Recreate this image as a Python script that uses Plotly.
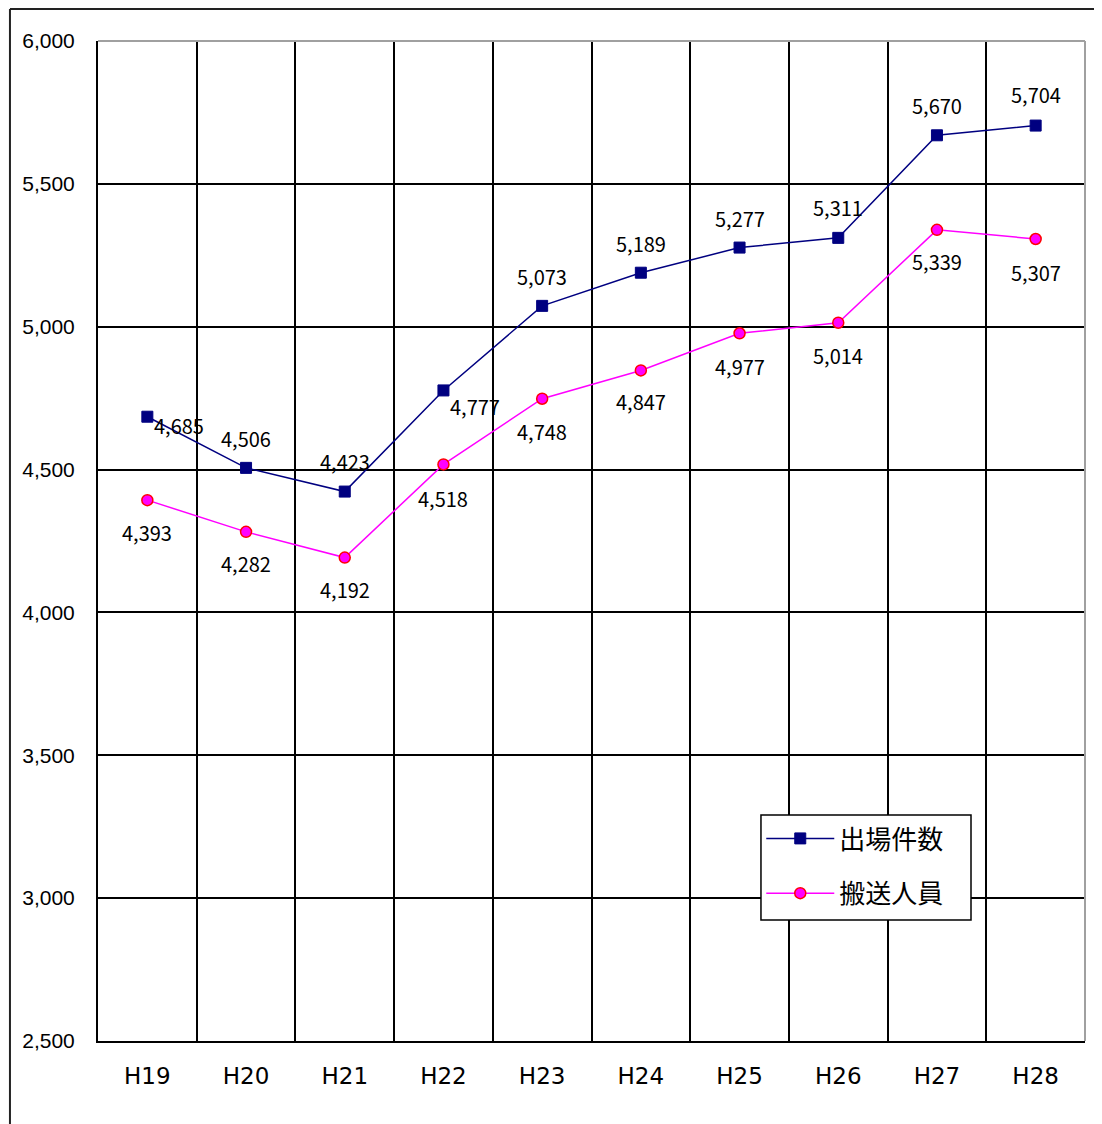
import plotly.graph_objects as go

years = ["H19", "H20", "H21", "H22", "H23", "H24", "H25", "H26", "H27", "H28"]
dispatches = [4685, 4506, 4423, 4777, 5073, 5189, 5277, 5311, 5670, 5704]
transported = [4393, 4282, 4192, 4518, 4748, 4847, 4977, 5014, 5339, 5307]
name_dispatch = "出場件数"
name_transport = "搬送人員"

# label offsets (pixels) relative to each point
disp_dx = [32, 0, 0, 32, 0, 0, 0, 0, 0, 0]
disp_dy = [-9, 29, 30, -16, 29, 29, 29, 30, 30, 31]
trans_dx = [0] * 10
trans_dy = [-32, -32, -32, -34, -33, -31, -33, -33, -32, -33]

NAVY = "#000080"
MAG = "#FF00FF"

fig = go.Figure()
fig.add_trace(go.Scatter(
    x=years, y=dispatches, name=name_dispatch, mode="lines+markers",
    line=dict(color=NAVY, width=1.5),
    marker=dict(symbol="square", size=11, color=NAVY, line=dict(color=NAVY, width=1)),
    legendgroup="a",
))
fig.add_trace(go.Scatter(
    x=years, y=transported, name=name_transport, mode="lines+markers",
    line=dict(color=MAG, width=1.5),
    marker=dict(symbol="circle", size=11, color=MAG, line=dict(color="#FF0000", width=1.5)),
    legendgroup="b",
))

label_font = dict(family="Noto Sans CJK JP", size=20, color="black")
for xv, yv, dx, dy in zip(years, dispatches, disp_dx, disp_dy):
    fig.add_annotation(x=xv, y=yv, text=f"{yv:,}", showarrow=False,
                       xshift=dx, yshift=dy, font=label_font)
for xv, yv, dx, dy in zip(years, transported, trans_dx, trans_dy):
    fig.add_annotation(x=xv, y=yv, text=f"{yv:,}", showarrow=False,
                       xshift=dx, yshift=dy, font=label_font)

# gray top/right plot border
fig.add_shape(type="line", xref="paper", yref="paper", x0=0, x1=1, y0=1, y1=1,
              line=dict(color="#A0A0A0", width=2), layer="above")
fig.add_shape(type="line", xref="paper", yref="paper", x0=1, x1=1, y0=0, y1=1,
              line=dict(color="#A0A0A0", width=2), layer="above")
# outer chart frame (left and top edges)
fig.add_shape(type="line", xref="paper", yref="paper", x0=-0.0892, x1=1.05, y0=1.032, y1=1.032,
              line=dict(color="#222222", width=2))
fig.add_shape(type="line", xref="paper", yref="paper", x0=-0.0892, x1=-0.0892, y0=1.032, y1=-0.1,
              line=dict(color="#222222", width=2))
# legend box
fig.add_shape(type="rect", xref="paper", yref="paper", x0=0.6717, x1=0.8845, y0=0.121, y1=0.226,
              line=dict(color="black", width=1.5), fillcolor="white", layer="above")

fig.update_layout(
    width=1094, height=1116,
    margin=dict(l=90, r=17, t=33, b=83),
    paper_bgcolor="white", plot_bgcolor="white",
    showlegend=True,
    legend=dict(
        x=0.672, y=0.226, xanchor="left", yanchor="top",
        bgcolor="rgba(0,0,0,0)", borderwidth=0,
        font=dict(family="Noto Sans CJK JP", size=26, color="black"),
        tracegroupgap=18, itemwidth=68,
    ),
    xaxis=dict(
        type="category", tickson="boundaries", showgrid=True,
        gridcolor="black", gridwidth=1.5,
        showline=True, linecolor="black", linewidth=2,
        ticks="", ticklabelstandoff=13,
        tickfont=dict(family="DejaVu Sans", size=23, color="black"),
        range=[-0.5, 9.5],
    ),
    yaxis=dict(
        range=[2500, 6000], dtick=500, tickformat=",",
        showgrid=True, gridcolor="black", gridwidth=1.5,
        showline=True, linecolor="black", linewidth=2,
        ticks="", ticklabelstandoff=17, zeroline=False,
        tickfont=dict(family="Liberation Sans", size=21, color="black"),
    ),
)

fig.write_html("out.html")
